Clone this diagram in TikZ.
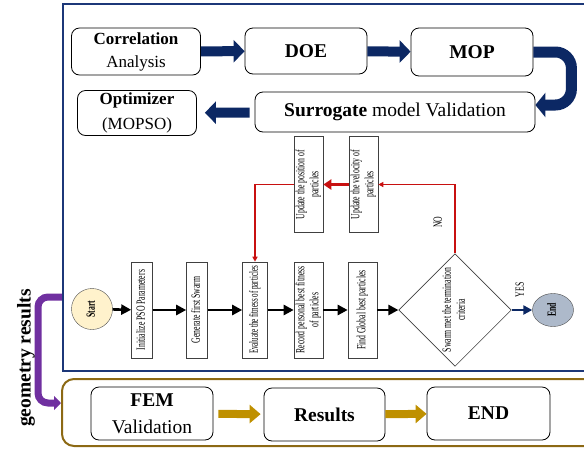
\documentclass[tikz,border=0pt]{standalone}
\usepackage{fontspec}
\setmainfont{Liberation Serif}
\usetikzlibrary{shapes.geometric, arrows.meta, positioning}

\definecolor{navy}{RGB}{12,40,100}
\definecolor{frameblue}{RGB}{28,55,120}
\definecolor{goldframe}{RGB}{140,105,20}
\definecolor{gold}{RGB}{191,144,0}
\definecolor{pred}{RGB}{200,16,16}
\definecolor{purp}{RGB}{112,48,160}
\definecolor{startfill}{RGB}{255,242,204}
\definecolor{endfill}{RGB}{173,185,202}

\newcommand{\psotxt}{\fontsize{12.5}{14}\selectfont}
\newcommand{\sqz}[2][0.62]{\scalebox{#1}[1]{\begin{tabular}{@{}c@{}}#2\end{tabular}}}

\begin{document}
\begin{tikzpicture}[
  x=1pt, y=-1pt,
  topbox/.style={draw, rounded corners=8pt, line width=.8pt, align=center, inner sep=0pt},
  psobox/.style={draw=black!75, line width=.6pt, rotate=90, minimum width=96pt, inner sep=0pt, font=\psotxt},
  navyarr/.style={draw=navy, line width=10pt, -{Triangle[width=22pt,length=11pt]}},
  blkarr/.style={line width=2.6pt, -{Triangle[width=10pt,length=10pt]}},
  redline/.style={draw=pred, line width=1.6pt, -{Triangle[width=5pt,length=5pt]}},
  goldarr/.style={draw=gold, line width=8pt, -{Triangle[width=18pt,length=11pt]}}]

  \useasboundingbox (0,0) rectangle (584,448);

  % frames
  \node[draw=frameblue, line width=2.2pt, minimum width=537pt, minimum height=367pt, inner sep=0pt] (bluefrm) at (331.5,187.5) {};
  \node[draw=goldframe, line width=2pt, rounded corners=12pt, minimum width=538pt, minimum height=67pt, inner sep=0pt] (goldfrm) at (331,412.5) {};

  % surrogate part
  \node[topbox, minimum width=129pt, minimum height=47pt, font=\fontsize{17}{23}\selectfont] (corr) at (136,51.5) {\textbf{Correlation}\\Analysis};
  \node[topbox, minimum width=122pt, minimum height=46pt, font=\bfseries\fontsize{19.5}{23}\selectfont] (doe) at (306,51) {DOE};
  \node[topbox, minimum width=122pt, minimum height=48pt, font=\bfseries\fontsize{19.5}{23}\selectfont] (mop) at (472,52) {MOP};
  \node[topbox, minimum width=119pt, minimum height=45pt, font=\fontsize{17}{25}\selectfont] (opt) at (137,113) {\textbf{Optimizer}\\(MOPSO)};
  \node[topbox, minimum width=280pt, minimum height=40pt, font=\fontsize{19.5}{23}\selectfont] (sur) at (395,112) {\textbf{Surrogate} model Validation};

  \draw[navyarr] (corr) -- (doe);
  \draw[navyarr] (doe) -- (mop);
  \draw[navyarr, line width=11pt, rounded corners=16pt, -{Triangle[width=24pt,length=10pt]}] (mop.east) -- ++(38,0) |- ([yshift=7pt]sur.east);
  \draw[navyarr, shorten <=5pt, shorten >=8pt] (sur) -- (opt);

  % PSO loop
  \node[circle, draw=black!70, fill=startfill, minimum size=41pt, inner sep=0pt, font=\bfseries\psotxt] (start) at (92,309) {\rotatebox{90}{\sqz{Start}}};
  \node[psobox, minimum height=21pt] (init) at (142,310) {\sqz{Initialize PSO Parameters}};
  \node[psobox, minimum height=21pt] (gen) at (197,310) {\sqz{Generate first Swarm}};
  \node[psobox, minimum height=25pt] (eval) at (255,310) {\sqz[0.56]{Evaluate the fitness of particles}};
  \node[psobox, minimum height=29pt] (rec) at (308.5,310) {\sqz{Record personal best fitness\\of particles}};
  \node[psobox, minimum height=29pt] (find) at (362.5,310) {\sqz{Find Global best particles}};
  \node[diamond, draw=black!75, line width=.6pt, rotate=90, minimum width=96pt, minimum height=106pt, inner sep=0pt, font=\psotxt] (dec) at (455,310) {\sqz{Swarm met the termination\\criteria}};
  \node[ellipse, draw=black!70, fill=endfill, minimum width=41pt, minimum height=33pt, inner sep=0pt, font=\bfseries\psotxt] (endn) at (553,310) {\rotatebox{90}{\sqz{End}}};
  \node[psobox, minimum height=29pt] (pos) at (308.5,184.5) {\sqz{Update the position of\\particles}};
  \node[psobox, minimum height=29pt] (vel) at (363.5,184.5) {\sqz{Update the velocity of\\particles}};
  \node[rotate=90, font=\psotxt] (yes) at (521,290) {\sqz{YES}};
  \node[rotate=90, font=\psotxt] (no) at (439,222) {\sqz{NO}};

  \draw[blkarr] (start) -- (init);
  \draw[blkarr] (init) -- (gen);
  \draw[blkarr] (gen) -- (eval);
  \draw[blkarr] (eval) -- (rec);
  \draw[blkarr] (rec) -- (find);
  \draw[blkarr] (find) -- (dec);
  \draw[navy, line width=2.6pt, -{Triangle[width=9pt,length=9pt]}] (dec) -- (endn);
  \draw[redline] (dec) |- (vel);
  \draw[pred, line width=3pt, -{Triangle[width=10pt,length=8pt]}] (vel) -- (pos);
  \draw[redline] (pos) -| (eval);

  % geometry results
  \draw[purp, line width=7pt, rounded corners=10pt, -{Triangle[width=14pt,length=7pt]}] (bluefrm.west |- 0,297) -- (38,297) |- (goldfrm.west |- 0,403);
  \node[rotate=90, font=\bfseries\fontsize{19.5}{23}\selectfont] (geolbl) at (26,358) {geometry results};

  % FEM part
  \node[topbox, minimum width=122pt, minimum height=53pt, font=\fontsize{19.5}{27}\selectfont] (fem) at (152,413.5) {\textbf{FEM}\\Validation};
  \node[topbox, minimum width=121pt, minimum height=53pt, font=\bfseries\fontsize{19.5}{23}\selectfont] (res) at (324.5,414.5) {Results};
  \node[topbox, minimum width=123pt, minimum height=53pt, font=\bfseries\fontsize{19.5}{23}\selectfont] (endbox) at (488.5,413.5) {END};

  \draw[goldarr, shorten <=5pt, shorten >=3pt] (fem) -- (res);
  \draw[goldarr] (res) -- (endbox);
\end{tikzpicture}
\end{document}
